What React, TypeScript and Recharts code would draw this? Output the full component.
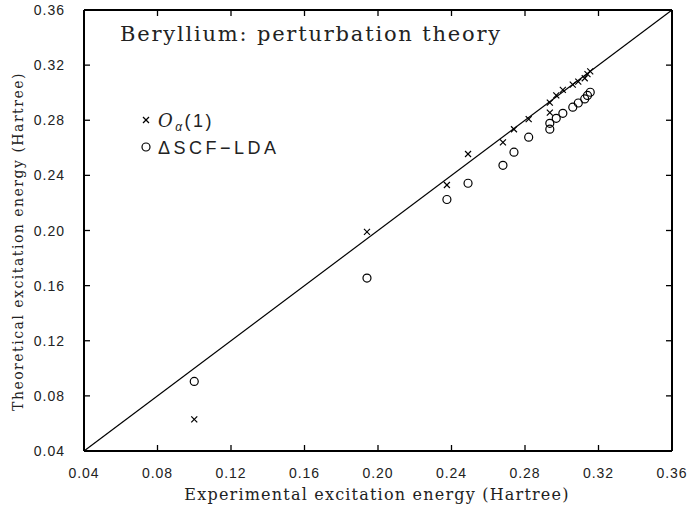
import React from 'react';
import { ScatterChart, Scatter, XAxis, YAxis, ReferenceLine } from 'recharts';

// experimental excitation energies (Hartree), one per transition
const experimental = [0.100, 0.194, 0.2375, 0.249, 0.268, 0.274, 0.282, 0.2935, 0.2935, 0.297, 0.3006, 0.306, 0.309, 0.3125, 0.314, 0.3155];
// O_alpha(1) perturbation theory results
const oAlpha1 = [0.063, 0.199, 0.233, 0.2555, 0.264, 0.2735, 0.2808, 0.2855, 0.2928, 0.298, 0.302, 0.3058, 0.308, 0.3105, 0.3135, 0.3155];
// Delta-SCF LDA results
const deltaScf = [0.0905, 0.1655, 0.2225, 0.2343, 0.2473, 0.2568, 0.2677, 0.2735, 0.2778, 0.2814, 0.285, 0.2895, 0.2925, 0.2955, 0.298, 0.3003];

const axisTicks = [0.04, 0.08, 0.12, 0.16, 0.20, 0.24, 0.28, 0.32, 0.36];
const axisDomain = [0.04, 0.36];

const oAlphaData = experimental.map((x, i) => ({ x, y: oAlpha1[i] }));
const scfData = experimental.map((x, i) => ({ x, y: deltaScf[i] }));

const TICK_FONT = { fontFamily: '"Liberation Sans", Arial, sans-serif', fontSize: 14, letterSpacing: 1, fill: '#222' };
const SERIF = '"DejaVu Serif", serif';
const TICK_LEN = 6;

const CrossShape = (props: any) => {
  const { cx, cy } = props;
  const s = 3;
  return (
    <g stroke="#000" strokeWidth={1.2}>
      <line x1={cx - s} y1={cy - s} x2={cx + s} y2={cy + s} />
      <line x1={cx - s} y1={cy + s} x2={cx + s} y2={cy - s} />
    </g>
  );
};

const CircleShape = (props: any) => {
  const { cx, cy } = props;
  return <circle cx={cx} cy={cy} r={4} fill="none" stroke="#000" strokeWidth={1.2} />;
};

const NoShape = () => null;

// inward ticks, labels outside
const BottomTick = (props: any) => {
  const { x, y, payload } = props;
  return (
    <g>
      <path d={`M${x},${y}V${y - TICK_LEN}`} stroke="#000" strokeWidth={1.3} />
      <text x={x} y={y + 22} textAnchor="middle" dominantBaseline="central" style={TICK_FONT}>
        {payload.value.toFixed(2)}
      </text>
    </g>
  );
};

const LeftTick = (props: any) => {
  const { x, y, payload } = props;
  return (
    <g>
      <path d={`M${x},${y}H${x + TICK_LEN}`} stroke="#000" strokeWidth={1.3} />
      <text x={x - 19} y={y} textAnchor="end" dominantBaseline="central" style={TICK_FONT}>
        {payload.value.toFixed(2)}
      </text>
    </g>
  );
};

const TopTick = (props: any) => {
  const { x, y } = props;
  return <path d={`M${x},${y}V${y + TICK_LEN}`} stroke="#000" strokeWidth={1.3} />;
};

const RightTick = (props: any) => {
  const { x, y } = props;
  return <path d={`M${x},${y}H${x - TICK_LEN}`} stroke="#000" strokeWidth={1.3} />;
};

export default function App() {
  return (
    <div style={{ position: 'absolute', left: 0, top: 0, width: 690, height: 508, background: '#fff' }}>
      <ScatterChart width={690} height={508} margin={{ top: 9, right: 17, bottom: 0, left: 0 }}>
        <XAxis
          type="number"
          dataKey="x"
          xAxisId="bottom"
          domain={axisDomain}
          ticks={axisTicks}
          allowDataOverflow
          height={57}
          tickSize={0}
          tickMargin={0}
          tickLine={false}
          tick={<BottomTick />}
          axisLine={{ stroke: '#000', strokeWidth: 2 }}
          label={{
            content: (p: any) => {
              const vb = p.viewBox;
              return (
                <text x={vb.x + vb.width / 2 - 1} y={vb.y + 43} textAnchor="middle" dominantBaseline="central"
                  style={{ fontFamily: SERIF, fontSize: 16, letterSpacing: 1.2, fill: '#222' }}>
                  Experimental excitation energy (Hartree)
                </text>
              );
            },
          }}
        />
        <XAxis
          type="number"
          dataKey="x"
          xAxisId="top"
          orientation="top"
          domain={axisDomain}
          ticks={axisTicks}
          allowDataOverflow
          height={1}
          tickSize={0}
          tickMargin={0}
          tickLine={false}
          tick={<TopTick />}
          axisLine={{ stroke: '#000', strokeWidth: 2 }}
        />
        <YAxis
          type="number"
          dataKey="y"
          yAxisId="left"
          domain={axisDomain}
          ticks={axisTicks}
          allowDataOverflow
          width={84}
          tickSize={0}
          tickMargin={0}
          tickLine={false}
          tick={<LeftTick />}
          axisLine={{ stroke: '#000', strokeWidth: 2 }}
          label={{
            content: (p: any) => {
              const vb = p.viewBox;
              const cx = vb.x + 18;
              const cy = vb.y + vb.height / 2 + 11;
              return (
                <text x={cx} y={cy} textAnchor="middle" dominantBaseline="central" transform={`rotate(-90 ${cx} ${cy})`}
                  style={{ fontFamily: SERIF, fontSize: 14, letterSpacing: 1.5, fill: '#222' }}>
                  Theoretical excitation energy (Hartree)
                </text>
              );
            },
          }}
        />
        <YAxis
          type="number"
          dataKey="y"
          yAxisId="right"
          orientation="right"
          domain={axisDomain}
          ticks={axisTicks}
          allowDataOverflow
          width={1}
          tickSize={0}
          tickMargin={0}
          tickLine={false}
          tick={<RightTick />}
          axisLine={{ stroke: '#000', strokeWidth: 2 }}
        />
        <ReferenceLine
          xAxisId="bottom"
          yAxisId="left"
          segment={[{ x: axisDomain[0], y: axisDomain[0] }, { x: axisDomain[1], y: axisDomain[1] }]}
          stroke="#000"
          strokeWidth={1.2}
        />
        {/* binds the frame axes (top/right) so they get drawn */}
        <Scatter data={oAlphaData} xAxisId="top" yAxisId="right" shape={<NoShape />} isAnimationActive={false} />
        <Scatter name="O_alpha(1)" data={oAlphaData} xAxisId="bottom" yAxisId="left" shape={<CrossShape />} isAnimationActive={false} />
        <Scatter name="DeltaSCF-LDA" data={scfData} xAxisId="bottom" yAxisId="left" shape={<CircleShape />} isAnimationActive={false} />
      </ScatterChart>

      {/* title and legend, drawn inside the frame */}
      <svg width={690} height={508} style={{ position: 'absolute', left: 0, top: 0, pointerEvents: 'none' }}>
        <text x={120} y={41} style={{ fontFamily: SERIF, fontSize: 21, letterSpacing: 1.8, fill: '#222' }}>
          Beryllium: perturbation theory
        </text>
        <g stroke="#000" strokeWidth={1.2}>
          <line x1={143} y1={117} x2={149} y2={123} />
          <line x1={143} y1={123} x2={149} y2={117} />
          <circle cx={146} cy={147} r={4} fill="none" />
        </g>
        <text x={158} y={127} style={{ fontFamily: '"Liberation Sans", sans-serif', fontSize: 18, letterSpacing: 2.5, fill: '#222' }}>
          <tspan style={{ fontFamily: '"DejaVu Serif", serif', fontStyle: 'italic' }}>O</tspan>
          <tspan fontSize={12} dy={4} style={{ fontStyle: 'italic' }}>α</tspan>
          <tspan dy={-4}>(1)</tspan>
        </text>
        <text x={158} y={154} style={{ fontFamily: '"Liberation Sans", sans-serif', fontSize: 18, letterSpacing: 3.5, fill: '#222' }}>
          ΔSCF−LDA
        </text>
      </svg>
    </div>
  );
}
